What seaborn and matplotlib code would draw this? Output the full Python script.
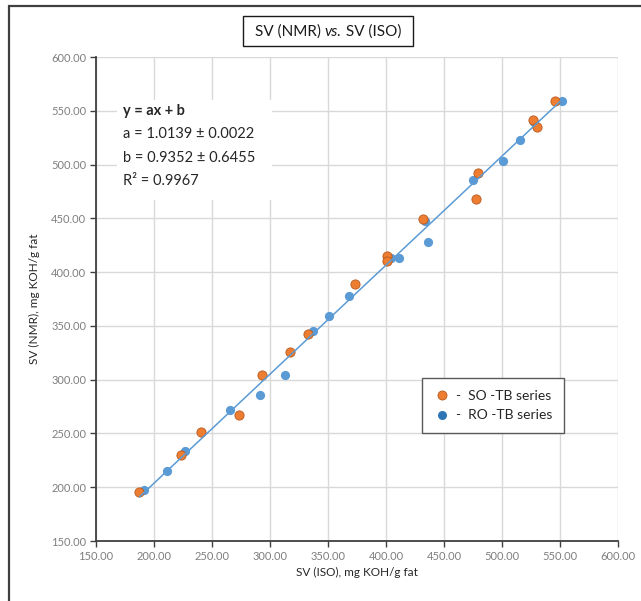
import numpy as np
import pandas as pd
import matplotlib
matplotlib.use("Agg")
import matplotlib.pyplot as plt
from matplotlib.patches import Rectangle
from matplotlib.lines import Line2D
import seaborn as sns

# Saponification values: ISO reference method vs. NMR
so_iso = [187.5, 223.0, 240.5, 273.0, 293.0, 317.0, 333.0, 373.0, 401.0, 401.0,
          432.0, 477.5, 479.0, 526.5, 530.0, 546.0]
so_nmr = [195.5, 229.5, 251.5, 267.5, 304.0, 326.0, 342.0, 389.0, 415.0, 410.0,
          449.0, 468.0, 492.0, 541.0, 535.0, 559.5]
ro_iso = [191.5, 211.0, 227.0, 265.5, 291.0, 313.0, 337.0, 351.0, 368.0, 404.0,
          411.0, 436.0, 434.0, 475.0, 500.5, 515.5, 528.0, 552.0]
ro_nmr = [197.0, 215.5, 234.0, 272.0, 286.0, 304.0, 345.0, 359.0, 378.0, 413.0,
          413.5, 428.0, 447.5, 486.0, 503.0, 523.0, 540.0, 559.5]

series_labels = ["-  SO -TB series", "-  RO -TB series"]

# Linear fit parameters
slope, slope_err = 1.0139, 0.0022
intercept, intercept_err = 0.9352, 0.6455
r_squared = 0.9967

ticks = [150, 200, 250, 300, 350, 400, 450, 500, 550, 600]

sns.set_theme(style="white")
plt.rcParams["font.family"] = ["Lato", "DejaVu Sans"]

fig = plt.figure(figsize=(6.41, 6.01), dpi=100)
ax = fig.add_axes([96 / 641, 60 / 601, 522 / 641, 484 / 601])

blue = "#5B9BD5"
orange = "#ED7D31"

ro = pd.DataFrame({"iso": ro_iso, "nmr": ro_nmr})
so = pd.DataFrame({"iso": so_iso, "nmr": so_nmr})

sns.scatterplot(data=ro, x="iso", y="nmr", ax=ax, color=blue, s=44,
                linewidth=0, zorder=3)
sns.scatterplot(data=so, x="iso", y="nmr", ax=ax, color=orange, s=44,
                edgecolor="#B8581C", linewidth=0.6, zorder=4)

# Trend line from the fitted parameters, over the data range
all_x = np.array(so_iso + ro_iso)
fit = pd.DataFrame({"x": [all_x.min(), all_x.max()]})
fit["y"] = slope * fit["x"] + intercept
sns.lineplot(data=fit, x="x", y="y", ax=ax, color=blue, linewidth=1.1, zorder=5)

ax.set_xlim(150, 600)
ax.set_ylim(150, 600)
ax.set_xticks(ticks)
ax.set_yticks(ticks)
ax.set_xticklabels([f"{t:.2f}" for t in ticks])
ax.set_yticklabels([f"{t:.2f}" for t in ticks])
ax.grid(True, color="#D9D9D9", linewidth=1.0)
ax.set_axisbelow(True)

for side in ("top", "right"):
    ax.spines[side].set_visible(False)
for side in ("left", "bottom"):
    ax.spines[side].set_color("#404040")
    ax.spines[side].set_linewidth(1.3)

ax.tick_params(axis="both", which="major", direction="out", length=4, width=1.0,
               color="#404040", labelsize=8, labelcolor="#7F7F7F",
               left=True, bottom=True, pad=3)

ax.set_xlabel("SV (ISO), mg KOH/g fat", fontsize=8.5, color="#262626", labelpad=4)
ax.set_ylabel("SV (NMR), mg KOH/g fat", fontsize=8.5, color="#262626", labelpad=8)

# Regression summary box
fig.patches.append(Rectangle((117 / 641, 1 - 200 / 601), 155 / 641, 100 / 601,
                             transform=fig.transFigure, facecolor="white",
                             edgecolor="none", zorder=6))
fig.text(123 / 641, 1 - 111 / 601, "y = ax + b", fontsize=10.5, fontweight="bold",
         color="#262626", va="center", zorder=7)
fig.text(123 / 641, 1 - 134 / 601, f"a = {slope:.4f} \u00b1 {slope_err:.4f}",
         fontsize=10.5, color="#262626", va="center", zorder=7)
fig.text(123 / 641, 1 - 158 / 601, f"b = {intercept:.4f} \u00b1 {intercept_err:.4f}",
         fontsize=10.5, color="#262626", va="center", zorder=7)
fig.text(123 / 641, 1 - 181 / 601, f"R\u00b2 = {r_squared:.4f}",
         fontsize=10.5, color="#262626", va="center", zorder=7)

# Legend
handles = [
    Line2D([], [], linestyle="none", marker="o", markersize=6.5,
           markerfacecolor=orange, markeredgecolor="#B8581C", markeredgewidth=0.6),
    Line2D([], [], linestyle="none", marker="o", markersize=6.5,
           markerfacecolor="#2E75B6", markeredgewidth=0),
]
leg = ax.legend(handles, series_labels, loc="upper left",
                bbox_to_anchor=(422 / 641, 1 - 378 / 601),
                bbox_transform=fig.transFigure, fontsize=10, frameon=True,
                fancybox=False, framealpha=1, edgecolor="#595959",
                handletextpad=0.4, handlelength=1.2, borderpad=0.85,
                labelspacing=0.55, borderaxespad=0)
leg.get_frame().set_linewidth(1.0)
leg.set_zorder(8)

# Boxed title with italic "vs."
title_y = 1 - 32 / 601
t1 = fig.text(0, title_y, "SV (NMR) ", fontsize=11, color="#1a1a1a", va="center")
t2 = fig.text(0, title_y, "vs.", fontsize=11, style="italic", color="#1a1a1a", va="center")
t3 = fig.text(0, title_y, " SV (ISO)", fontsize=11, color="#1a1a1a", va="center")
fig.canvas.draw()
renderer = fig.canvas.get_renderer()
widths = [t.get_window_extent(renderer).width for t in (t1, t2, t3)]
total = sum(widths)
x0 = 328 - total / 2
for t, w in zip((t1, t2, t3), widths):
    t.set_x(x0 / 641)
    x0 += w
fig.patches.append(Rectangle((243 / 641, 1 - 46 / 601), 170 / 641, 30 / 601,
                             transform=fig.transFigure, facecolor="white",
                             edgecolor="#1a1a1a", linewidth=1.0, zorder=0))

# Outer chart frame
fig.patches.append(Rectangle((9 / 641, -0.05), 1.2, 1 - 6 / 601 + 0.05,
                             transform=fig.transFigure, facecolor="none",
                             edgecolor="#404040", linewidth=1.6, zorder=0))

fig.savefig("out.png", dpi=100)
